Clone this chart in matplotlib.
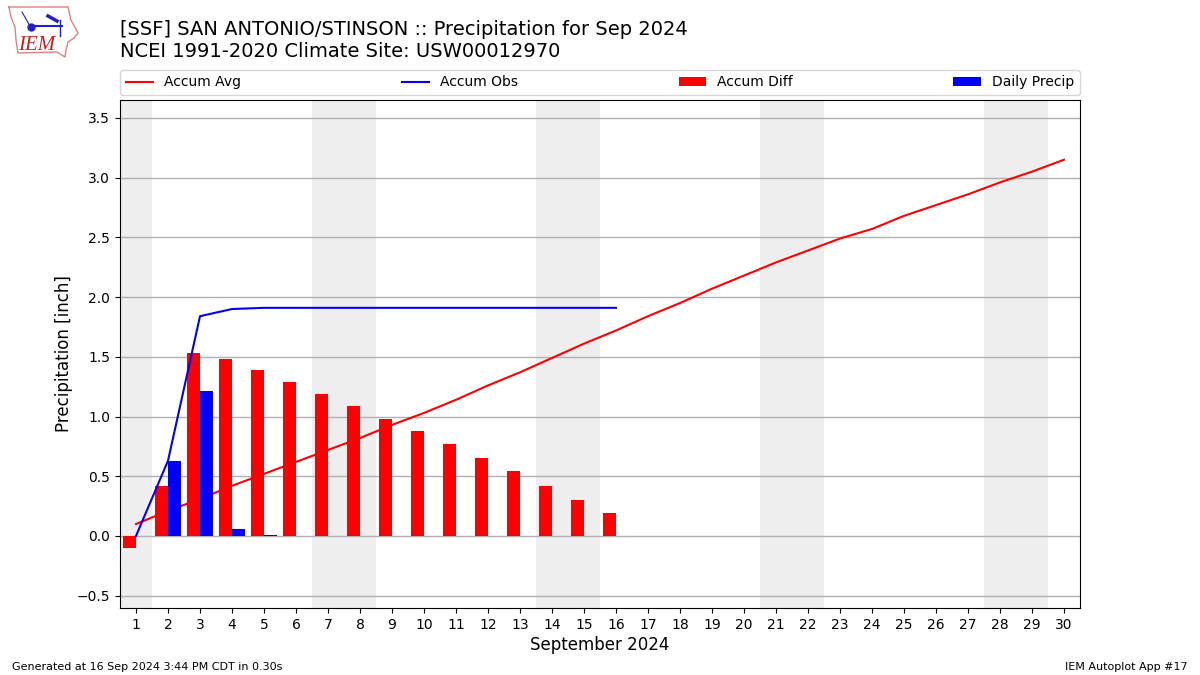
# coding=utf-8
import numpy as np
import matplotlib
matplotlib.use('Agg')
import matplotlib.pyplot as plt

days = list(range(1, 31))
# accumulated climatology, inches
accum_avg = [0.10, 0.21, 0.31, 0.42, 0.52, 0.62, 0.72, 0.82, 0.93, 1.03,
             1.14, 1.26, 1.37, 1.49, 1.61, 1.72, 1.84, 1.95, 2.07, 2.18,
             2.29, 2.39, 2.49, 2.57, 2.68, 2.77, 2.86, 2.96, 3.05, 3.15]
# observed only up to the 16th
obs_days = list(range(1, 17))
accum_obs = [0.00, 0.63, 1.84, 1.90, 1.91, 1.91, 1.91, 1.91,
             1.91, 1.91, 1.91, 1.91, 1.91, 1.91, 1.91, 1.91]
accum_diff = [-0.10, 0.42, 1.53, 1.48, 1.39, 1.29, 1.19, 1.09,
              0.98, 0.88, 0.77, 0.65, 0.54, 0.42, 0.30, 0.19]
daily_precip = [0.00, 0.63, 1.21, 0.06, 0.01, 0, 0, 0,
                0, 0, 0, 0, 0, 0, 0, 0]
weekends = [(0.5, 1.5), (6.5, 8.5), (13.5, 15.5), (20.5, 22.5), (27.5, 29.5)]

# logo shapes, in pixels of the logo box
logo_outline_x = [9, 68, 71, 78, 74, 68, 66, 65, 57, 18, 16, 15, 11, 9]
logo_outline_y = [7, 7, 20, 33, 38, 42, 50, 57, 52, 53, 40, 27, 17, 7]

fig = plt.figure(figsize=(12, 6.75), dpi=100)
ax = fig.add_axes([120 / 1200, 1 - 608 / 675, 960 / 1200, 508 / 675])

# weekend shading
for start, end in weekends:
    ax.axvspan(start, end, color='#eeeeee', lw=0, zorder=0)

ax.plot(days, accum_avg, color='r', label='Accum Avg', zorder=2)
ax.plot(obs_days, accum_obs, color='b', label='Accum Obs', zorder=4)
ax.bar(obs_days, accum_diff, width=-0.4, align='edge', color='r', label='Accum Diff', zorder=3)
ax.bar(obs_days, daily_precip, width=0.4, align='edge', color='b', label='Daily Precip', zorder=3)

ax.set_axisbelow(True)
ax.grid(True, axis='y', color='#b0b0b0', lw=1)
ax.set_xlim(0.5, 30.5)
ax.set_ylim(-0.603, 3.65)
ax.set_xticks(days)
ax.set_yticks(np.arange(-0.5, 3.51, 0.5))
ax.tick_params(labelsize=10)
ax.set_xlabel('September 2024', fontsize=12, labelpad=3)
ax.set_ylabel('Precipitation [inch]', fontsize=12, labelpad=3)

ax.legend(loc='lower left', bbox_to_anchor=(0, 1.01, 1, 0.05), mode='expand',
          ncol=4, fontsize=10, borderaxespad=0)

fig.text(120 / 1200, 1 - 61 / 675, '[SSF] SAN ANTONIO/STINSON :: Precipitation for Sep 2024\n'
         'NCEI 1991-2020 Climate Site: USW00012970', fontsize=14, ha='left', va='bottom',
         linespacing=1.2)
fig.text(12 / 1200, 1 - 672 / 675, 'Generated at 16 Sep 2024 3:44 PM CDT in 0.30s', fontsize=8, va='bottom')
fig.text(1188 / 1200, 1 - 672 / 675, 'IEM Autoplot App #17', fontsize=8, ha='right', va='bottom')

# logo, drawn in its own little axes
logo = fig.add_axes([0, 1 - 60 / 675, 80 / 1200, 60 / 675])
logo.set_xlim(0, 80)
logo.set_ylim(60, 0)
logo.axis('off')
logo.plot(logo_outline_x, logo_outline_y, color='#e08080', lw=1)
logo.plot([31, 62], [26, 26], color='#2020d0', lw=1.5)
logo.plot([60, 60], [20, 36], color='#2020d0', lw=1)
logo.plot([48, 57], [16, 21], color='#2020d0', lw=2.5)
logo.plot([22, 30], [12, 26], color='#2020d0', lw=0.8)
logo.plot([31], [27], 'o', color='#2020d0', ms=5)
logo.text(37, 45, 'IEM', color='#c82020', fontsize=15, family='Liberation Serif',
          style='italic', ha='center', va='center')

fig.savefig('out.png', dpi=100)
